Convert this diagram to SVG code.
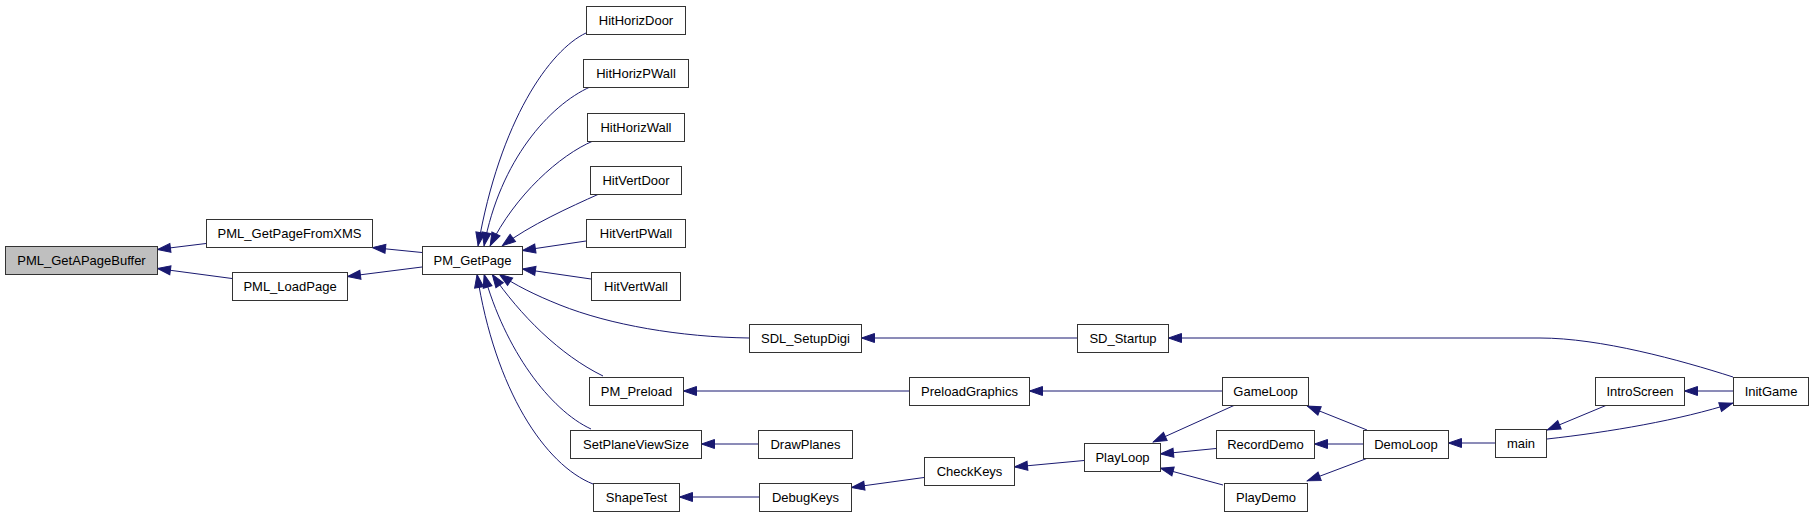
<svg xmlns="http://www.w3.org/2000/svg" width="1813" height="517" viewBox="0 0 1813 517">
<style>
.n rect{fill:#ffffff;stroke:#333333;stroke-width:1}
.n text{font-family:"Liberation Sans",Arial,Helvetica,sans-serif;font-size:13px;text-anchor:middle;fill:#000000}
#PML_GetAPageBuffer rect{fill:#bfbfbf}
#edges path{fill:none;stroke:#191970;stroke-width:1;marker-end:url(#ah)}
</style>
<defs>
<marker id="ah" markerUnits="userSpaceOnUse" viewBox="0 0 14 10" refX="14" refY="5" markerWidth="14" markerHeight="10" orient="auto" overflow="visible">
<path d="M0.5,0.5 L13.5,5 L0.5,9.5 z" fill="#191970" stroke="#191970" stroke-width="1"/>
</marker>
</defs>
<rect width="1813" height="517" fill="#ffffff"/>
<g id="edges">
<path d="M206,243.5 L157,249.5"/>
<path d="M232,278.5 L157,268.5"/>
<path d="M422,252.5 L372,247.5"/>
<path d="M422,267 L347,276.5"/>
<path d="M586,33 C550,50 500,120 478,246"/>
<path d="M590,87 C550,105 500,160 484,246"/>
<path d="M593,141 C560,155 515,195 490,246"/>
<path d="M599,194 C570,207 530,225 502,246"/>
<path d="M586,241 L522,250.5"/>
<path d="M591,279 L522,269"/>
<path d="M749,338 C680,337 610,325 560,305 C535,295 515,285 499,274"/>
<path d="M603,376 C560,355 520,315 492,274"/>
<path d="M591,429 C550,410 505,350 484,274"/>
<path d="M593,484 C545,465 495,390 477,274"/>
<path d="M1077,338 L861,338"/>
<path d="M909,391 L683,391"/>
<path d="M1222,391 L1029,391"/>
<path d="M758,444 L701,444"/>
<path d="M759,497 L679,497"/>
<path d="M924,477.5 L851,487.5"/>
<path d="M1084,460.5 L1014,467"/>
<path d="M1235,405 L1153,442"/>
<path d="M1216,448.5 L1160,454"/>
<path d="M1223,485 L1160,468"/>
<path d="M1367,430 L1307,406"/>
<path d="M1363,444 L1314,444"/>
<path d="M1368,458 L1307,481"/>
<path d="M1495,443 L1448,443"/>
<path d="M1607,405 L1547,430"/>
<path d="M1733,391 L1684,391"/>
<path d="M1547,439 C1610,432 1680,420 1733,403"/>
<path d="M1733,377 C1680,360 1600,338 1540,338 L1168,338"/>
</g>
<g id="PML_GetAPageBuffer" class="n"><rect x="5.5" y="246.5" width="152" height="28"/><text x="81.5" y="265">PML_GetAPageBuffer</text></g>
<g id="PML_GetPageFromXMS" class="n"><rect x="206.5" y="219.5" width="166" height="28"/><text x="289.5" y="238">PML_GetPageFromXMS</text></g>
<g id="PML_LoadPage" class="n"><rect x="232.5" y="272.5" width="115" height="28"/><text x="290" y="291">PML_LoadPage</text></g>
<g id="PM_GetPage" class="n"><rect x="422.5" y="246.5" width="100" height="28"/><text x="472.5" y="265">PM_GetPage</text></g>
<g id="HitHorizDoor" class="n"><rect x="586.5" y="6.5" width="99" height="28"/><text x="636" y="25">HitHorizDoor</text></g>
<g id="HitHorizPWall" class="n"><rect x="583.5" y="59.5" width="105" height="28"/><text x="636" y="78">HitHorizPWall</text></g>
<g id="HitHorizWall" class="n"><rect x="587.5" y="113.5" width="97" height="28"/><text x="636" y="132">HitHorizWall</text></g>
<g id="HitVertDoor" class="n"><rect x="590.5" y="166.5" width="91" height="28"/><text x="636" y="185">HitVertDoor</text></g>
<g id="HitVertPWall" class="n"><rect x="586.5" y="219.5" width="99" height="28"/><text x="636" y="238">HitVertPWall</text></g>
<g id="HitVertWall" class="n"><rect x="591.5" y="272.5" width="89" height="28"/><text x="636" y="291">HitVertWall</text></g>
<g id="SDL_SetupDigi" class="n"><rect x="749.5" y="324.5" width="112" height="28"/><text x="805.5" y="343">SDL_SetupDigi</text></g>
<g id="PM_Preload" class="n"><rect x="589.5" y="377.5" width="94" height="28"/><text x="636.5" y="396">PM_Preload</text></g>
<g id="SetPlaneViewSize" class="n"><rect x="570.5" y="430.5" width="131" height="28"/><text x="636" y="449">SetPlaneViewSize</text></g>
<g id="ShapeTest" class="n"><rect x="593.5" y="483.5" width="86" height="28"/><text x="636.5" y="502">ShapeTest</text></g>
<g id="SD_Startup" class="n"><rect x="1077.5" y="324.5" width="91" height="28"/><text x="1123" y="343">SD_Startup</text></g>
<g id="PreloadGraphics" class="n"><rect x="909.5" y="377.5" width="120" height="28"/><text x="969.5" y="396">PreloadGraphics</text></g>
<g id="DrawPlanes" class="n"><rect x="758.5" y="430.5" width="94" height="28"/><text x="805.5" y="449">DrawPlanes</text></g>
<g id="DebugKeys" class="n"><rect x="759.5" y="483.5" width="92" height="28"/><text x="805.5" y="502">DebugKeys</text></g>
<g id="CheckKeys" class="n"><rect x="924.5" y="457.5" width="90" height="28"/><text x="969.5" y="476">CheckKeys</text></g>
<g id="PlayLoop" class="n"><rect x="1084.5" y="443.5" width="76" height="28"/><text x="1122.5" y="462">PlayLoop</text></g>
<g id="GameLoop" class="n"><rect x="1222.5" y="377.5" width="86" height="28"/><text x="1265.5" y="396">GameLoop</text></g>
<g id="RecordDemo" class="n"><rect x="1216.5" y="430.5" width="98" height="28"/><text x="1265.5" y="449">RecordDemo</text></g>
<g id="PlayDemo" class="n"><rect x="1224.5" y="483.5" width="83" height="28"/><text x="1266" y="502">PlayDemo</text></g>
<g id="DemoLoop" class="n"><rect x="1363.5" y="430.5" width="85" height="28"/><text x="1406" y="449">DemoLoop</text></g>
<g id="main" class="n"><rect x="1495.5" y="429.5" width="51" height="28"/><text x="1521" y="448">main</text></g>
<g id="IntroScreen" class="n"><rect x="1595.5" y="377.5" width="89" height="28"/><text x="1640" y="396">IntroScreen</text></g>
<g id="InitGame" class="n"><rect x="1733.5" y="377.5" width="75" height="28"/><text x="1771" y="396">InitGame</text></g>
</svg>
